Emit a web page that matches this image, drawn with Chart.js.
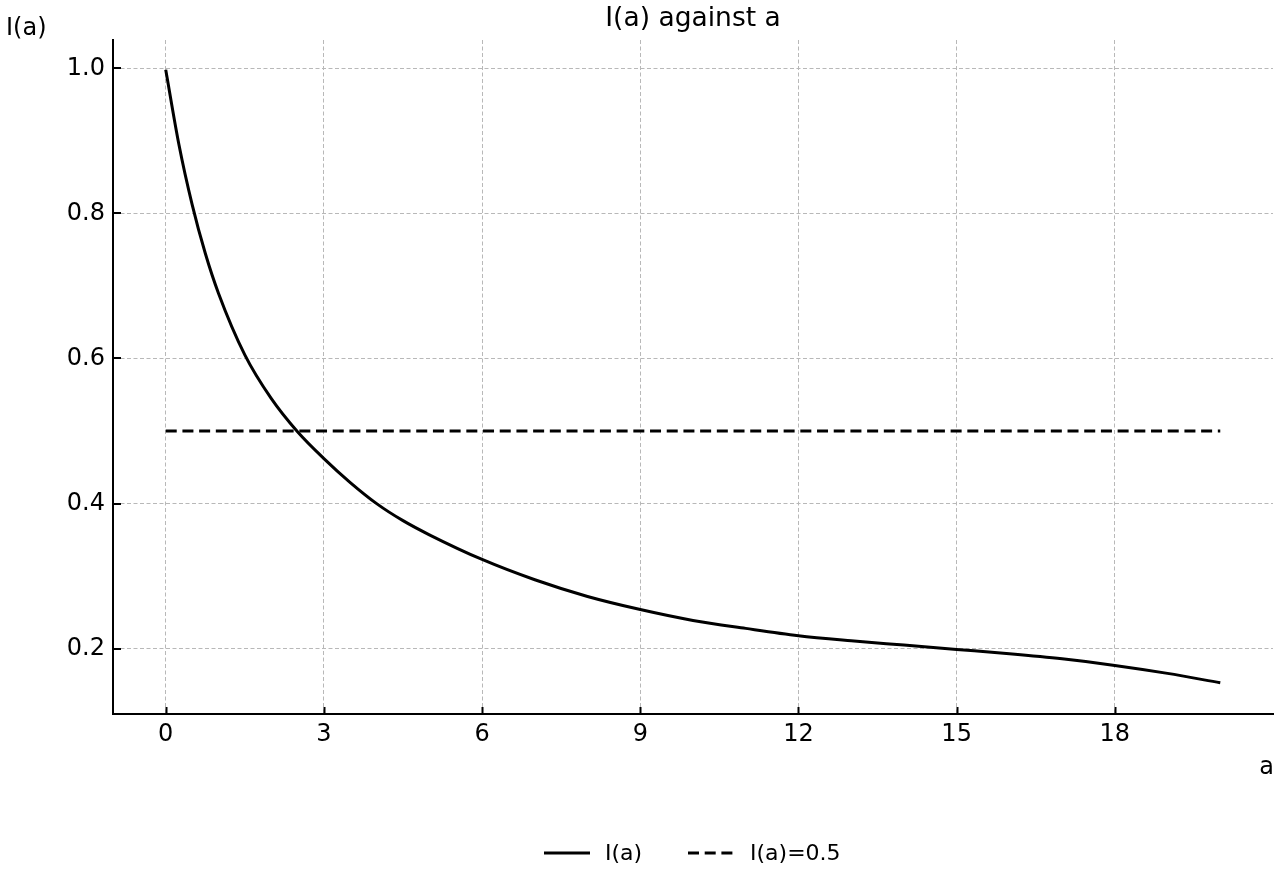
<!DOCTYPE html>
<html><head><meta charset="utf-8">
<script src="https://cdn.jsdelivr.net/npm/chart.js@4.4.1/dist/chart.umd.min.js"></script>
<style>html,body{margin:0;padding:0;background:#fff;} #wrap{width:1280px;height:880px;position:relative;}</style>
</head><body><div id="wrap"><canvas id="c" width="1280" height="880"></canvas></div>
<script>
const aValues = [0, 0.25, 0.5, 0.75, 1, 1.5, 2, 2.5, 3, 3.5, 4, 4.5, 5, 6, 7, 8, 9, 10, 11, 12, 13, 14, 15, 16, 17, 18, 19, 20];
const iValues = [0.998, 0.895, 0.8125, 0.745, 0.69, 0.605, 0.545, 0.499, 0.462, 0.429, 0.400, 0.3765, 0.357, 0.323, 0.295, 0.272, 0.254, 0.239, 0.228, 0.218, 0.211, 0.205, 0.199, 0.193, 0.186, 0.177, 0.166, 0.153];
const refA = [0, 20];
const refI = [0.5, 0.5];
const xTicks = [0, 3, 6, 9, 12, 15, 18];
const yTicks = [0.2, 0.4, 0.6, 0.8, 1.0];
const seriesLabels = ['I(a)', 'I(a)=0.5'];
const titleText = 'I(a) against a';
const xTitle = 'a';
const yTitle = 'I(a)';
const FONT = "'DejaVu Sans', sans-serif";

const curve = aValues.map((a, i) => ({x: a, y: iValues[i]}));
const ref = refA.map((a, i) => ({x: a, y: refI[i]}));

const decor = {
  id: 'decor',
  afterDraw(chart) {
    const ctx = chart.ctx;
    const ca = chart.chartArea;
    const xs = chart.scales.x, ys = chart.scales.y;
    ctx.save();
    ctx.strokeStyle = '#000';
    ctx.lineWidth = 2;
    ctx.setLineDash([]);
    ctx.beginPath();
    xTicks.forEach(v => {
      const px = Math.round(xs.getPixelForValue(v)) + 0.5;
      ctx.moveTo(px, ca.bottom);
      ctx.lineTo(px, ca.bottom - 7);
    });
    yTicks.forEach(v => {
      const py = Math.round(ys.getPixelForValue(v));
      ctx.moveTo(ca.left, py);
      ctx.lineTo(ca.left + 8, py);
    });
    ctx.stroke();
    ctx.fillStyle = '#000';
    ctx.font = '26.5px ' + FONT;
    ctx.textAlign = 'center';
    ctx.textBaseline = 'middle';
    ctx.fillText(titleText, (ca.left + ca.right) / 2, 19);
    ctx.font = '24px ' + FONT;
    ctx.textAlign = 'left';
    ctx.textBaseline = 'middle';
    ctx.fillText(yTitle, 6, 29);
    ctx.textAlign = 'right';
    ctx.textBaseline = 'alphabetic';
    ctx.fillText(xTitle, ca.right + 1, 774);
    const ly = 853;
    const items = [{x: 544, tx: 605, dash: []}, {x: 688, tx: 750, dash: [11, 5.7]}];
    ctx.font = '22px ' + FONT;
    ctx.textAlign = 'left';
    ctx.textBaseline = 'middle';
    items.forEach((it, i) => {
      const ds = chart.data.datasets[i];
      ctx.strokeStyle = ds.borderColor;
      ctx.lineWidth = ds.borderWidth;
      ctx.setLineDash(it.dash);
      ctx.beginPath();
      ctx.moveTo(it.x, ly);
      ctx.lineTo(it.x + 46, ly);
      ctx.stroke();
      ctx.setLineDash([]);
      ctx.fillText(ds.label, it.tx, ly + 1);
    });
    ctx.restore();
  }
};

new Chart(document.getElementById('c'), {
  type: 'line',
  data: {
    datasets: [
      {label: seriesLabels[0], data: curve, borderColor: '#000', borderWidth: 3, pointRadius: 0, cubicInterpolationMode: 'monotone', fill: false},
      {label: seriesLabels[1], data: ref, borderColor: '#000', borderWidth: 3, borderDash: [11, 5.7], pointRadius: 0, fill: false}
    ]
  },
  options: {
    responsive: false,
    animation: false,
    devicePixelRatio: 1,
    layout: {padding: {left: 0, top: 40, right: 7, bottom: 116}},
    plugins: {legend: {display: false}, title: {display: false}, tooltip: {enabled: false}},
    scales: {
      x: {
        type: 'linear', min: -1, max: 21,
        afterBuildTicks: s => { s.ticks = xTicks.map(v => ({value: v})); },
        afterFit: s => { s.height = 50; },
        grid: {color: '#b8b8b8', lineWidth: 1, drawTicks: false},
        border: {display: true, color: '#000', width: 2, dash: [4, 2.5]},
        ticks: {color: '#000', font: {family: FONT, size: 24}, padding: 6, maxRotation: 0, callback: v => String(v)}
      },
      y: {
        type: 'linear', min: 0.11, max: 1.039,
        afterBuildTicks: s => { s.ticks = yTicks.map(v => ({value: v})); },
        afterFit: s => { s.width = 113; },
        grid: {color: '#b8b8b8', lineWidth: 1, drawTicks: false},
        border: {display: true, color: '#000', width: 2, dash: [4, 2.5]},
        ticks: {color: '#000', font: {family: FONT, size: 24}, padding: 8, callback: v => v.toFixed(1)}
      }
    }
  },
  plugins: [decor]
});
</script>
</body></html>
